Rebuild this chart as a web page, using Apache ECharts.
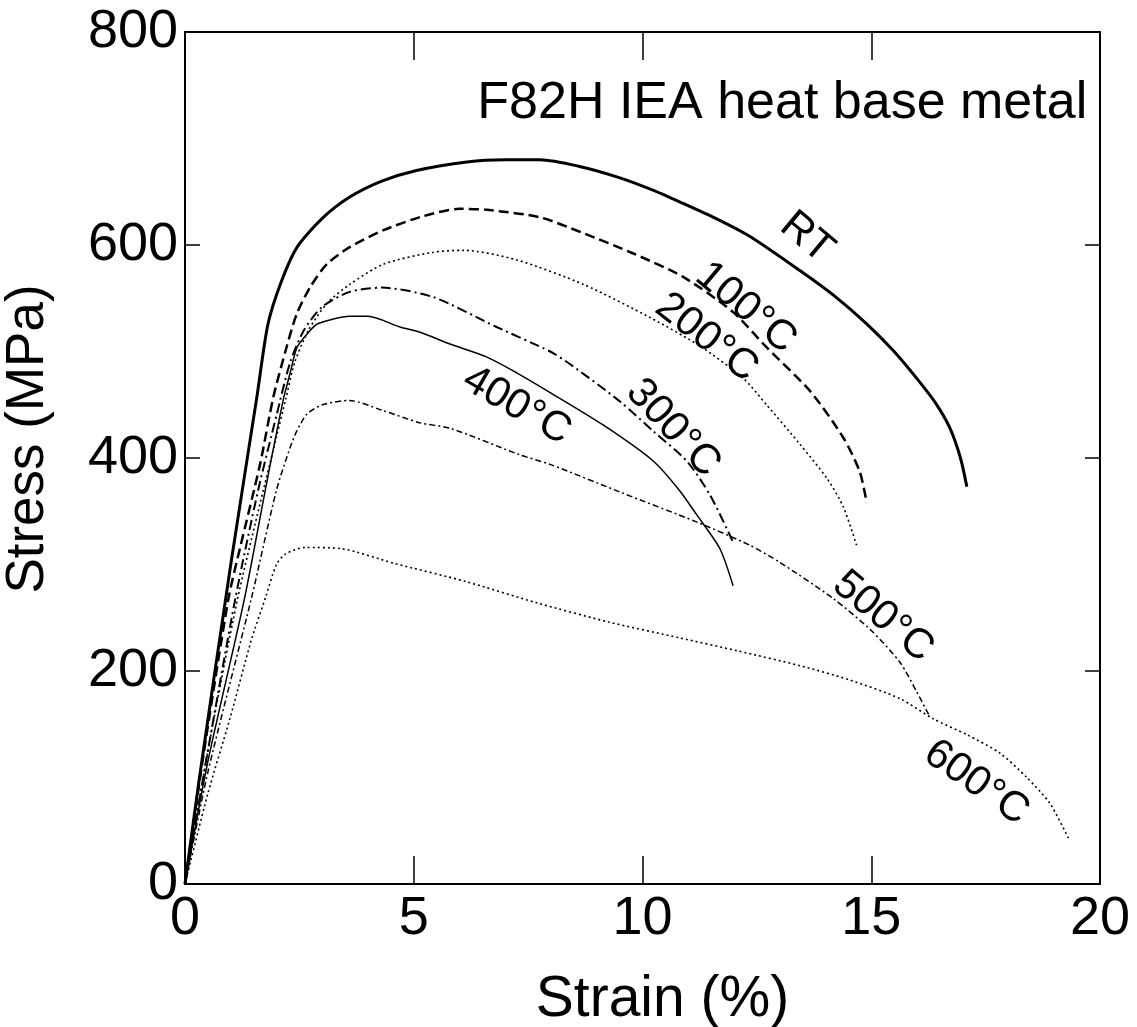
<!DOCTYPE html>
<html>
<head>
<meta charset="utf-8">
<style>
  html, body { margin: 0; padding: 0; background: #ffffff; }
  #chart { width: 1137px; height: 1027px; }
</style>
<script src="https://cdn.jsdelivr.net/npm/echarts@6/dist/echarts.min.js"></script>
</head>
<body>
<div id="chart"></div>
<script>
// ---- data (strain %, stress MPa) ----
var rtStrain   = [0, 0.3, 1.0, 1.57, 1.81, 2.1, 2.45, 3.0, 3.6, 4.3, 5.06, 6.16, 7.0, 7.76, 8.6, 9.44, 10.2, 10.89, 11.6, 12.35, 13.44, 14.2, 14.9, 15.5, 15.99, 16.4, 16.72, 16.95, 17.09];
var rtStress   = [0, 95, 300, 457, 525, 565, 598, 625, 645, 660, 670, 678, 680, 680, 674, 664, 652, 639, 625, 608, 576, 552, 526, 500, 475, 452, 428, 400, 373];

var t100Strain = [0, 0.4, 0.95, 1.2, 1.64, 1.93, 2.22, 2.44, 2.73, 3.1, 3.6, 4.34, 5.2, 6.0, 6.6, 7.76, 8.71, 9.8, 10.89, 11.98, 12.71, 13.66, 14.39, 14.75, 14.9];
var t100Stress = [0, 120, 268, 315, 394, 457, 504, 535, 560, 582, 598, 614, 627, 634, 633, 626, 611, 592, 570, 537, 504, 463, 419, 387, 358];

var t200Strain = [0, 0.5, 1.15, 1.6, 2.0, 2.2, 2.4, 2.7, 3.1, 3.6, 4.34, 5.4, 6.1, 7.25, 8.71, 10.16, 11.26, 12.2, 12.71, 13.44, 14.03, 14.39, 14.68];
var t200Stress = [0, 125, 268, 350, 420, 455, 490, 520, 545, 563, 582, 593, 595, 586, 563, 532, 505, 475, 450, 413, 381, 354, 318];

var t300Strain = [0, 0.5, 1.1, 1.6, 2.0, 2.3, 2.6, 3.0, 3.6, 4.3, 5.43, 6.81, 7.98, 8.42, 9.51, 10.24, 10.97, 11.48, 11.98];
var t300Stress = [0, 125, 268, 370, 440, 490, 520, 542, 556, 560, 551, 523, 500, 488, 453, 425, 397, 365, 321];

var t400Strain = [0, 0.5, 1.3, 1.8, 2.15, 2.3, 2.45, 2.7, 2.9, 3.6, 4.0, 4.7, 5.14, 5.79, 6.59, 7.25, 8.0, 9.14, 10.24, 10.8, 11.18, 11.69, 11.98];
var t400Stress = [0, 115, 268, 380, 455, 480, 504, 518, 526, 533, 533, 523, 518, 507, 495, 480, 461, 431, 397, 370, 347, 315, 280];

var t500Strain = [0, 0.5, 1.45, 2.0, 2.3, 2.44, 2.66, 3.0, 3.6, 4.3, 5.14, 5.79, 7.32, 7.98, 9.51, 11.18, 12.35, 13.0, 14.17, 15.0, 15.63, 16.0, 16.28];
var t500Stress = [0, 105, 268, 370, 410, 425, 441, 450, 454, 445, 433, 428, 403, 394, 368, 340, 318, 302, 268, 238, 208, 180, 157];

var t600Strain = [0, 0.5, 0.98, 1.45, 1.76, 2.0, 2.2, 2.62, 3.4, 4.58, 6.14, 7.69, 9.26, 10.82, 12.07, 13.44, 14.5, 15.63, 16.36, 17.1, 17.81, 18.4, 18.9, 19.31];
var t600Stress = [0, 85, 155, 229, 269, 300, 310, 316, 315, 301, 284, 264, 246, 231, 219, 205, 192, 174, 155, 140, 123, 100, 76, 43];

var curveNames  = ['RT', '100°C', '200°C', '300°C', '400°C', '500°C', '600°C'];
var xTicks = [0, 5, 10, 15, 20];
var yTicks = [0, 200, 400, 600, 800];

// label anchors (data coordinates) and rotation (degrees, clockwise)
var labelStrain = [13.59, 12.26, 11.40, 10.67, 7.25, 15.26, 17.30];
var labelStress = [607, 541, 513, 428, 449, 251, 95];
var labelAngle  = [40, 40, 38, 47, 30, 40, 35];

var titleText = 'F82H IEA heat base metal';

// ---- styles ----
var FONT = '"Liberation Sans", Arial, Helvetica, sans-serif';
var styles = [
  { width: 3,   type: 'solid' },
  { width: 2.5, type: [10, 5] },
  { width: 1.6, type: [2, 3] },
  { width: 2,   type: [10, 4, 2, 4] },
  { width: 1.5, type: 'solid' },
  { width: 1.5, type: [6, 3, 2, 3] },
  { width: 1.6, type: [2, 3] }
];

function pairs(xs, ys) {
  var out = [];
  for (var i = 0; i < xs.length; i++) out.push([xs[i], ys[i]]);
  return out;
}
var allData = [
  pairs(rtStrain, rtStress), pairs(t100Strain, t100Stress), pairs(t200Strain, t200Stress),
  pairs(t300Strain, t300Stress), pairs(t400Strain, t400Stress), pairs(t500Strain, t500Stress),
  pairs(t600Strain, t600Stress)
];

var series = allData.map(function (d, i) {
  return {
    name: curveNames[i],
    type: 'line',
    data: d,
    showSymbol: false,
    smooth: 0.25,
    xAxisIndex: 0, yAxisIndex: 0,
    lineStyle: { color: '#000', width: styles[i].width, type: styles[i].type },
    silent: true,
    animation: false,
    z: 3
  };
});

function axisLine() { return { show: true, onZero: false, lineStyle: { color: '#000', width: 2 } }; }
function tick(len) { return { show: true, inside: true, length: len, lineStyle: { color: '#000', width: 1.5 } }; }

var chart = echarts.init(document.getElementById('chart'), null, { renderer: 'canvas' });
chart.setOption({
  backgroundColor: '#ffffff',
  animation: false,
  grid: { left: 185, right: 37, top: 32, bottom: 143, containLabel: false, outerBoundsMode: 'none' },
  xAxis: [
    {
      type: 'value', min: xTicks[0], max: xTicks[xTicks.length - 1], interval: 5, position: 'bottom',
      axisLine: axisLine(), axisTick: tick(28),
      axisLabel: { color: '#000', fontSize: 54, fontFamily: FONT, margin: 8 },
      splitLine: { show: false },
      name: 'Strain (%)', nameLocation: 'middle', nameGap: 88,
      nameTextStyle: { color: '#000', fontSize: 57, fontFamily: FONT, padding: [0, 0, 0, 40] }
    },
    {
      type: 'value', min: xTicks[0], max: xTicks[xTicks.length - 1], interval: 5, position: 'top',
      axisLine: axisLine(), axisTick: tick(28),
      axisLabel: { show: false }, splitLine: { show: false }
    }
  ],
  yAxis: [
    {
      type: 'value', min: yTicks[0], max: yTicks[yTicks.length - 1], interval: 200, position: 'left',
      axisLine: axisLine(), axisTick: tick(15),
      axisLabel: { color: '#000', fontSize: 54, fontFamily: FONT, margin: 7 },
      splitLine: { show: false },
      name: 'Stress (MPa)', nameLocation: 'middle', nameGap: 130, nameRotate: 90,
      nameTextStyle: { color: '#000', fontSize: 53, fontFamily: FONT, padding: [0, 0, 0, 38] }
    },
    {
      type: 'value', min: yTicks[0], max: yTicks[yTicks.length - 1], interval: 200, position: 'right',
      axisLine: axisLine(), axisTick: tick(15),
      axisLabel: { show: false }, splitLine: { show: false }
    }
  ],
  series: series
});

// curve labels and title placed through the chart's own coordinate conversion
var graphics = [];
for (var i = 0; i < curveNames.length; i++) {
  var p = chart.convertToPixel({ xAxisIndex: 0, yAxisIndex: 0 }, [labelStrain[i], labelStress[i]]);
  graphics.push({
    type: 'text', x: p[0], y: p[1], rotation: -labelAngle[i] * Math.PI / 180, z: 10,
    style: { text: curveNames[i], font: '42px ' + FONT, fill: '#000', align: 'center', verticalAlign: 'middle' }
  });
}
var tp = chart.convertToPixel({ xAxisIndex: 0, yAxisIndex: 0 }, [19.72, 733]);
graphics.push({
  type: 'text', x: tp[0], y: tp[1], z: 10,
  style: { text: titleText, font: '52px ' + FONT, fill: '#000', align: 'right', verticalAlign: 'middle' }
});
chart.setOption({ graphic: graphics });
</script>
</body>
</html>
